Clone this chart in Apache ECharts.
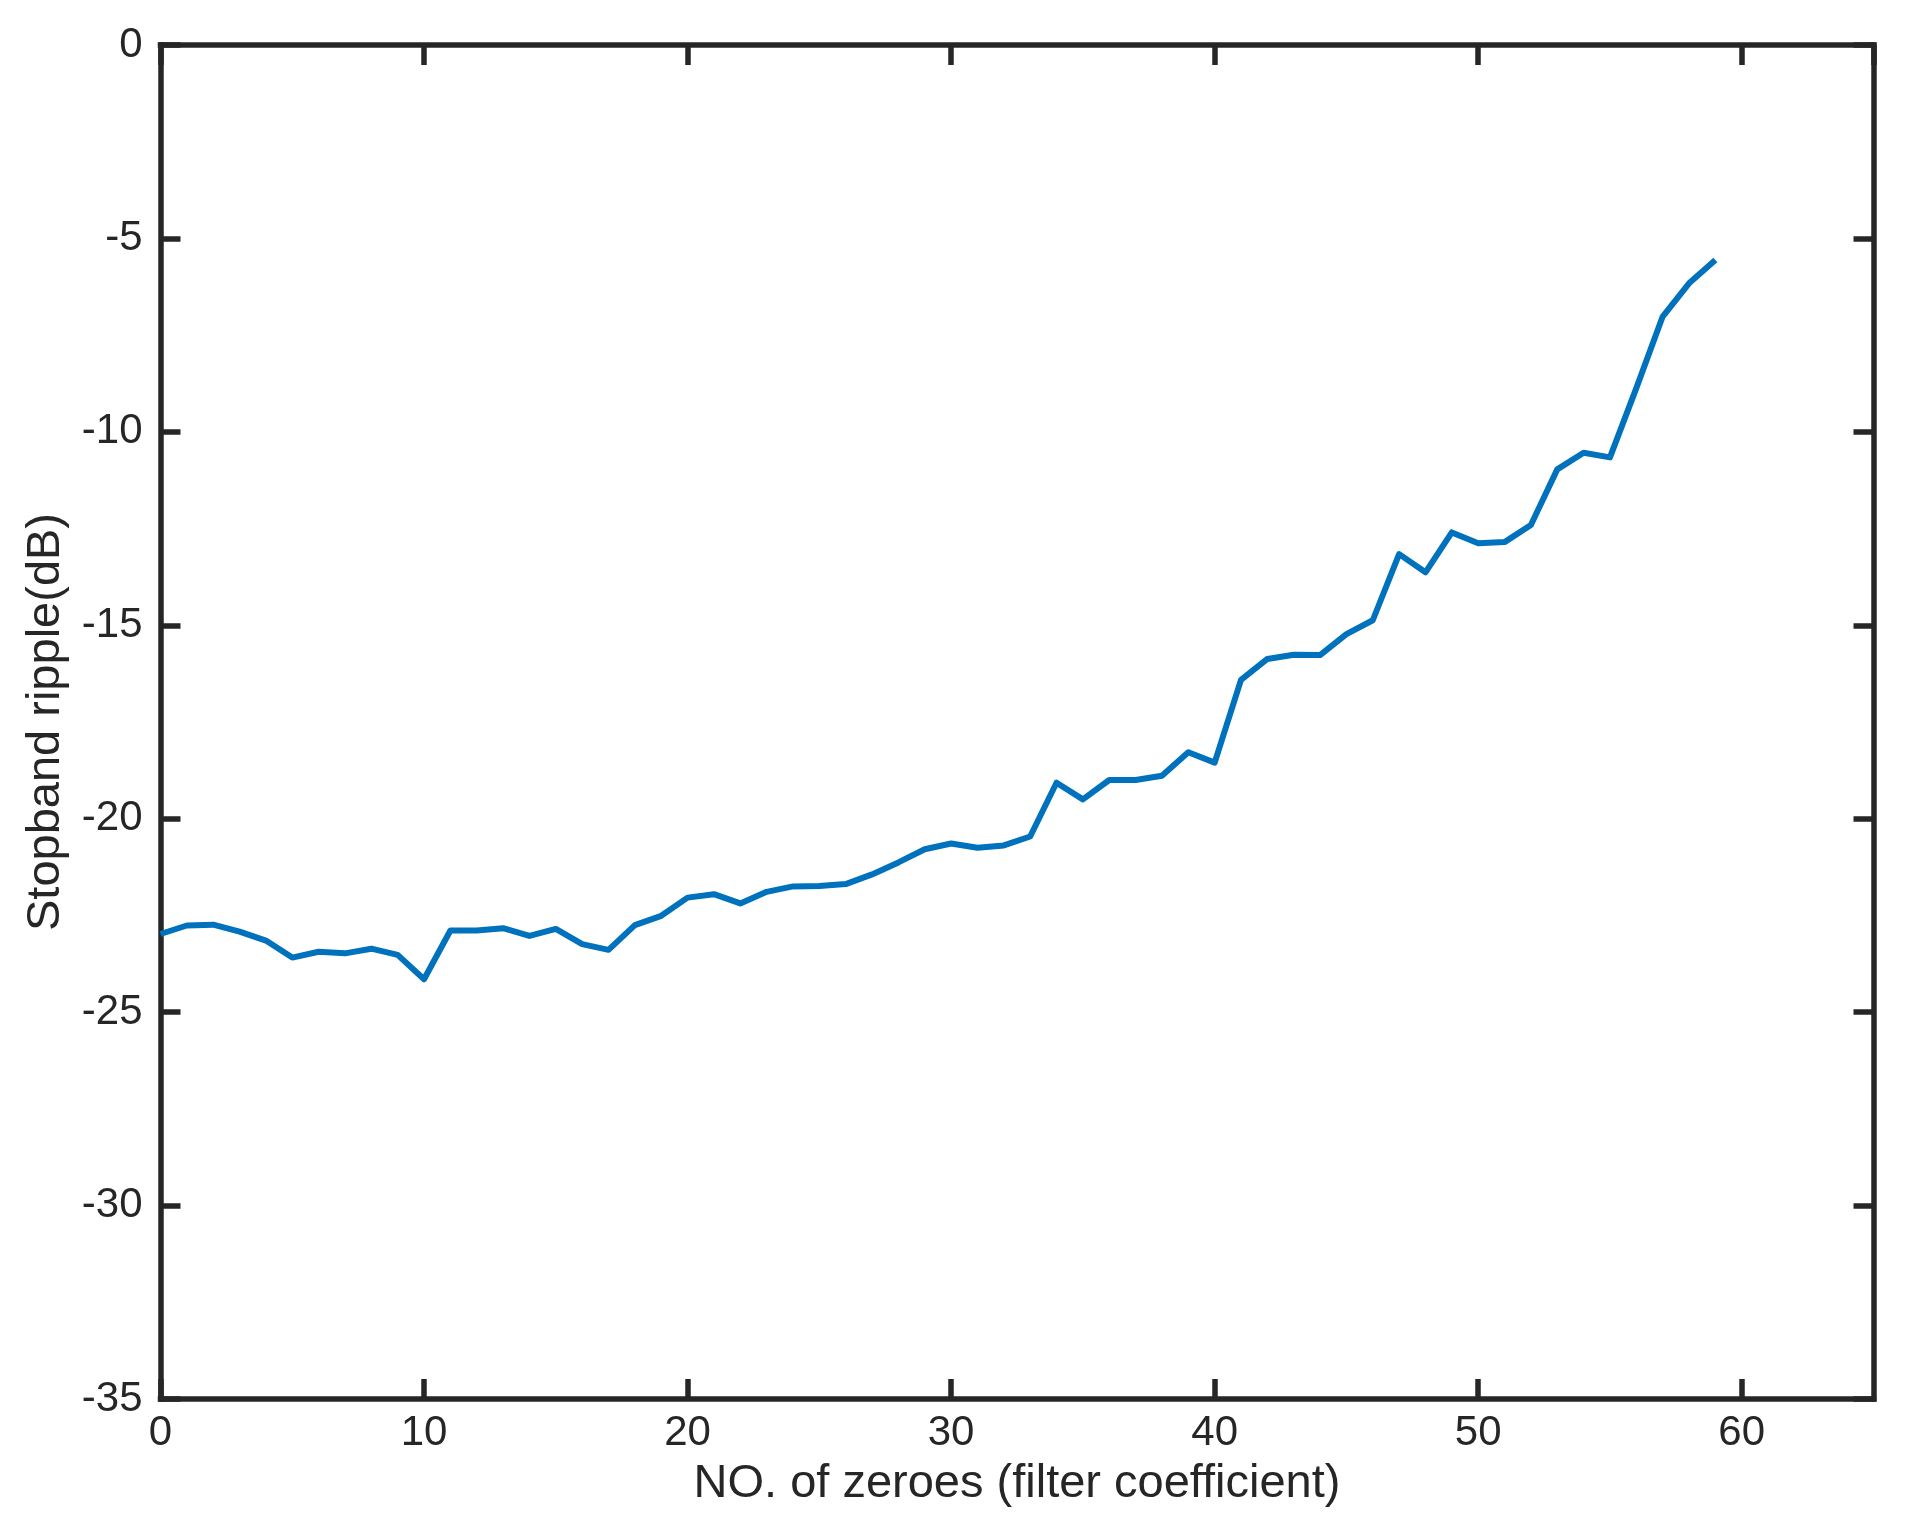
<!DOCTYPE html>
<html>
<head>
<meta charset="utf-8">
<title>Stopband ripple</title>
<script src="https://cdn.jsdelivr.net/npm/echarts@6/dist/echarts.min.js"></script>
<style>
  html, body { margin: 0; padding: 0; background: #ffffff; }
  #chart { width: 1908px; height: 1522px; }
</style>
</head>
<body>
<div id="chart"></div>
<script>
// number of zeroes (filter coefficient)
var zeroes = [0, 1, 2, 3, 4, 5, 6, 7, 8, 9, 10, 11, 12, 13, 14, 15, 16, 17, 18, 19,
  20, 21, 22, 23, 24, 25, 26, 27, 28, 29, 30, 31, 32, 33, 34, 35, 36, 37, 38, 39,
  40, 41, 42, 43, 44, 45, 46, 47, 48, 49, 50, 51, 52, 53, 54, 55, 56, 57, 58, 59]
// stopband ripple in dB
var ripple = [-22.98, -22.76, -22.74, -22.92, -23.15, -23.59, -23.44, -23.48, -23.36, -23.52,
  -24.15, -22.89, -22.89, -22.83, -23.03, -22.85, -23.24, -23.39, -22.75, -22.51,
  -22.04, -21.95, -22.19, -21.89, -21.75, -21.74, -21.69, -21.44, -21.13, -20.79,
  -20.64, -20.75, -20.69, -20.46, -19.07, -19.50, -19.00, -19.00, -18.89, -18.28,
  -18.55, -16.41, -15.87, -15.76, -15.77, -15.23, -14.87, -13.16, -13.63, -12.60,
  -12.88, -12.85, -12.41, -10.97, -10.54, -10.66, -8.87, -7.02, -6.16, -5.56]
var xTicks = [0, 10, 20, 30, 40, 50, 60]
var yTicks = [-35, -30, -25, -20, -15, -10, -5, 0]

var axisColor = '#262626'
var fontFamily = '"Liberation Sans", Arial, Helvetica, sans-serif'

function frameAxis (extra) {
  var base = {
    type: 'value',
    axisLine: {show: true, onZero: false, lineStyle: {color: axisColor, width: 5.5, cap: 'square'}},
    axisTick: {show: true, inside: true, length: 20, lineStyle: {color: axisColor, width: 5.5}},
    splitLine: {show: false}
  }
  return Object.assign(base, extra)
}

var chart = echarts.init(document.getElementById('chart'))
var points = zeroes.map(function (z, i) { return [z, ripple[i]] })

var option = {
  animation: false,
  backgroundColor: '#ffffff',
  grid: {left: 160.5, right: 34.5, top: 45, bottom: 123},
  xAxis: [
    frameAxis({
      position: 'bottom',
      min: 0,
      max: 65,
      interval: 10,
      name: 'NO. of zeroes (filter coefficient)',
      nameLocation: 'middle',
      nameGap: 62,
      nameTextStyle: {color: axisColor, fontSize: 47, fontFamily: fontFamily},
      axisLabel: {
        show: true,
        margin: 13,
        color: axisColor,
        fontSize: 42,
        fontFamily: fontFamily,
        showMaxLabel: false,
        formatter: function (v) { return xTicks.indexOf(v) >= 0 ? String(v) : '' }
      }
    }),
    frameAxis({
      position: 'top',
      min: 0,
      max: 65,
      interval: 10,
      axisLabel: {show: false}
    })
  ],
  yAxis: [
    frameAxis({
      position: 'left',
      min: -35,
      max: 0,
      interval: 5,
      name: 'Stopband ripple(dB)',
      nameLocation: 'middle',
      nameGap: 91,
      nameTextStyle: {color: axisColor, fontSize: 47, fontFamily: fontFamily},
      axisLabel: {
        show: true,
        margin: 18,
        color: axisColor,
        fontSize: 42,
        fontFamily: fontFamily,
        formatter: function (v) { return yTicks.indexOf(v) >= 0 ? String(v) : '' }
      }
    }),
    frameAxis({
      position: 'right',
      min: -35,
      max: 0,
      interval: 5,
      axisLabel: {show: false}
    })
  ],
  series: [
    {
      type: 'line',
      data: points,
      showSymbol: false,
      symbol: 'none',
      clip: false,
      z: 1,
      lineStyle: {color: '#0072BD', width: 6, join: 'round'}
    }
  ]
}
chart.setOption(option, true)
</script>
</body>
</html>
